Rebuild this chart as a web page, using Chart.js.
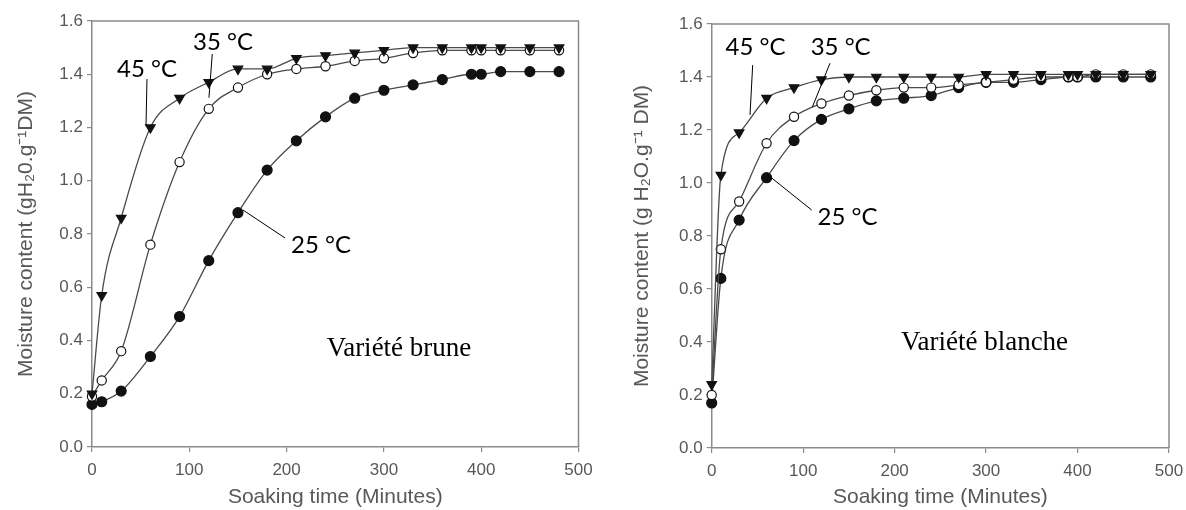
<!DOCTYPE html>
<html>
<head>
<meta charset="utf-8">
<script src="https://cdn.jsdelivr.net/npm/chart.js@4.4.1/dist/chart.umd.min.js"></script>
<style>
  html, body { margin: 0; padding: 0; background: #fff; }
  #wrap { position: relative; width: 1186px; height: 510px; }
  .box { position: absolute; top: 0; height: 510px; }
</style>
</head>
<body>
<div id="wrap">
  <div class="box" style="left:0;width:595px"><canvas id="chartBrune"></canvas></div>
  <div class="box" style="left:595px;width:591px"><canvas id="chartBlanche"></canvas></div>
</div>
<script>
// soaking time (min) shared by all series
const soakingTimes = [0, 10, 30, 60, 90, 120, 150, 180, 210, 240, 270, 300, 330, 360, 390, 400, 420, 450, 480];

// Variété brune
const brune45 = [0.20, 0.57, 0.86, 1.20, 1.31, 1.37, 1.42, 1.42, 1.46, 1.47, 1.48, 1.49, 1.50, 1.50, 1.50, 1.50, 1.50, 1.50, 1.50];
const brune35 = [0.19, 0.25, 0.36, 0.76, 1.07, 1.27, 1.35, 1.40, 1.42, 1.43, 1.45, 1.46, 1.48, 1.49, 1.49, 1.49, 1.49, 1.49, 1.49];
const brune25 = [0.16, 0.17, 0.21, 0.34, 0.49, 0.70, 0.88, 1.04, 1.15, 1.24, 1.31, 1.34, 1.36, 1.38, 1.40, 1.40, 1.41, 1.41, 1.41];

// Variété blanche
const blanche45 = [0.24, 1.03, 1.19, 1.32, 1.36, 1.39, 1.40, 1.40, 1.40, 1.40, 1.40, 1.41, 1.41, 1.41, 1.41, 1.41, 1.41, 1.41, 1.41];
const blanche35 = [0.20, 0.75, 0.93, 1.15, 1.25, 1.30, 1.33, 1.35, 1.36, 1.36, 1.37, 1.38, 1.39, 1.40, 1.40, 1.40, 1.41, 1.41, 1.41];
const blanche25 = [0.17, 0.64, 0.86, 1.02, 1.16, 1.24, 1.28, 1.31, 1.32, 1.33, 1.36, 1.38, 1.38, 1.39, 1.40, 1.40, 1.40, 1.40, 1.40];

const tempLabels = ['45 °C', '35 °C', '25 °C'];
const xTicks = [0, 100, 200, 300, 400, 500];
const yTicks = [0, 0.2, 0.4, 0.6, 0.8, 1.0, 1.2, 1.4, 1.6];

const AXIS_GREY = '#8a8a8a';
const TEXT_GREY = '#585858';

function toPoints(values) {
  return soakingTimes.map((t, i) => ({ x: t, y: values[i] }));
}

function series(label, values, style) {
  const base = {
    label: label,
    data: toPoints(values),
    borderColor: '#4a4a4a',
    borderWidth: 1.3,
    cubicInterpolationMode: 'monotone',
    pointBorderColor: '#111',
    pointBorderWidth: 1.2,
    clip: false
  };
  if (style === 'tri') {
    return Object.assign(base, { pointStyle: 'triangle', rotation: 180, pointRadius: 5.5, pointBackgroundColor: '#111' });
  }
  if (style === 'open') {
    return Object.assign(base, { pointStyle: 'circle', pointRadius: 4.6, pointBackgroundColor: '#fff' });
  }
  return Object.assign(base, { pointStyle: 'circle', pointRadius: 5, pointBackgroundColor: '#111' });
}

// frame + callout labels, placed in data coordinates
const calloutPlugin = {
  id: 'callouts',
  beforeDatasetsDraw(chart) {
    const { ctx, chartArea } = chart;
    ctx.save();
    ctx.strokeStyle = AXIS_GREY;
    ctx.lineWidth = 1.5;
    ctx.beginPath();
    ctx.moveTo(chartArea.left, chartArea.top);
    ctx.lineTo(chartArea.right, chartArea.top);
    ctx.lineTo(chartArea.right, chartArea.bottom);
    ctx.stroke();
    ctx.restore();
  },
  afterDatasetsDraw(chart, args, opts) {
    const { ctx, scales: { x, y } } = chart;
    ctx.save();
    ctx.strokeStyle = '#000';
    ctx.lineWidth = 1;
    ctx.fillStyle = '#000';
    ctx.textAlign = 'center';
    ctx.textBaseline = 'middle';
    ctx.font = '24px Lato, "Open Sans", sans-serif';
    (opts.labels || []).forEach(lb => {
      ctx.beginPath();
      ctx.moveTo(x.getPixelForValue(lb.line[0][0]), y.getPixelForValue(lb.line[0][1]));
      ctx.lineTo(x.getPixelForValue(lb.line[1][0]), y.getPixelForValue(lb.line[1][1]));
      ctx.stroke();
      ctx.fillText(lb.text, x.getPixelForValue(lb.at[0]), y.getPixelForValue(lb.at[1]));
    });
    if (opts.variety) {
      ctx.font = '27px "Liberation Serif", "Times New Roman", serif';
      ctx.fillText(opts.variety.text, x.getPixelForValue(opts.variety.at[0]), y.getPixelForValue(opts.variety.at[1]));
    }
    ctx.restore();
  }
};

function makeChart(canvasId, data45, data35, data25, cfg) {
  const ctx = document.getElementById(canvasId).getContext('2d');
  return new Chart(ctx, {
    type: 'line',
    data: {
      datasets: [
        series(tempLabels[0], data45, 'tri'),
        series(tempLabels[1], data35, 'open'),
        series(tempLabels[2], data25, 'dot')
      ]
    },
    options: {
      responsive: true,
      maintainAspectRatio: false,
      animation: false,
      layout: { padding: { top: cfg.padTop, right: cfg.padRight, left: 0, bottom: 0 } },
      plugins: {
        legend: { display: false },
        tooltip: { enabled: false },
        callouts: { labels: cfg.labels, variety: cfg.variety }
      },
      scales: {
        x: {
          type: 'linear',
          min: 0,
          max: 500,
          afterBuildTicks: s => { s.ticks = xTicks.map(v => ({ value: v })); },
          afterFit: s => { s.height = cfg.xHeight; s.paddingLeft = 0; s.paddingRight = 0; },
          border: { display: true, color: AXIS_GREY, width: 1.5 },
          grid: { drawOnChartArea: false, drawTicks: true, tickLength: 5, color: AXIS_GREY, lineWidth: 1.2 },
          ticks: { color: TEXT_GREY, font: { family: '"Liberation Sans", Arial, sans-serif', size: 17 }, padding: 8, maxRotation: 0 },
          title: {
            display: true,
            text: 'Soaking time (Minutes)',
            color: TEXT_GREY,
            font: { family: '"Liberation Sans", Arial, sans-serif', size: 21, lineHeight: 1 },
            padding: { top: 0, bottom: 2 }
          }
        },
        y: {
          type: 'linear',
          min: 0,
          max: 1.6,
          afterBuildTicks: s => { s.ticks = yTicks.map(v => ({ value: v })); },
          afterFit: s => { s.width = cfg.yWidth; s.paddingTop = 0; s.paddingBottom = 0; },
          border: { display: true, color: AXIS_GREY, width: 1.5 },
          grid: { drawOnChartArea: false, drawTicks: true, tickLength: 5, color: AXIS_GREY, lineWidth: 1.2 },
          ticks: {
            color: TEXT_GREY,
            font: { family: '"Liberation Sans", Arial, sans-serif', size: 17 },
            padding: 4,
            callback: v => v.toFixed(1)
          },
          title: {
            display: true,
            text: cfg.yTitle,
            color: TEXT_GREY,
            font: { family: '"Liberation Sans", Arial, sans-serif', size: 21, lineHeight: 1 },
            padding: { top: cfg.yTitlePad, bottom: 0 }
          }
        }
      }
    },
    plugins: [calloutPlugin]
  });
}

makeChart('chartBrune', brune45, brune35, brune25, {
  padTop: 21, padRight: 16.5, xHeight: 63, yWidth: 92, yTitlePad: 16,
  yTitle: 'Moisture content (gH\u20820.g\u207B\u00B9DM)',
  labels: [
    { text: tempLabels[0], at: [56.5, 1.42], line: [[56.5, 1.382], [55.5, 1.205]] },
    { text: tempLabels[1], at: [134.6, 1.52], line: [[123.6, 1.476], [120.2, 1.312]] },
    { text: tempLabels[2], at: [235.4, 0.759], line: [[155.2, 0.89], [198.4, 0.785]] }
  ],
  variety: { text: 'Variété brune', at: [315.5, 0.368] }
});

makeChart('chartBlanche', blanche45, blanche35, blanche25, {
  padTop: 24, padRight: 17, xHeight: 62, yWidth: 116.7, yTitlePad: 37,
  yTitle: 'Moisture content (g H\u2082O.g\u207B\u00B9 DM)',
  labels: [
    { text: tempLabels[0], at: [47.9, 1.511], line: [[44.8, 1.445], [41.9, 1.257]] },
    { text: tempLabels[1], at: [141, 1.511], line: [[129.3, 1.452], [110, 1.286]] },
    { text: tempLabels[2], at: [148.5, 0.872], line: [[63.7, 1.024], [109.3, 0.898]] }
  ],
  variety: { text: 'Variété blanche', at: [298.3, 0.396] }
});
</script>
</body>
</html>
